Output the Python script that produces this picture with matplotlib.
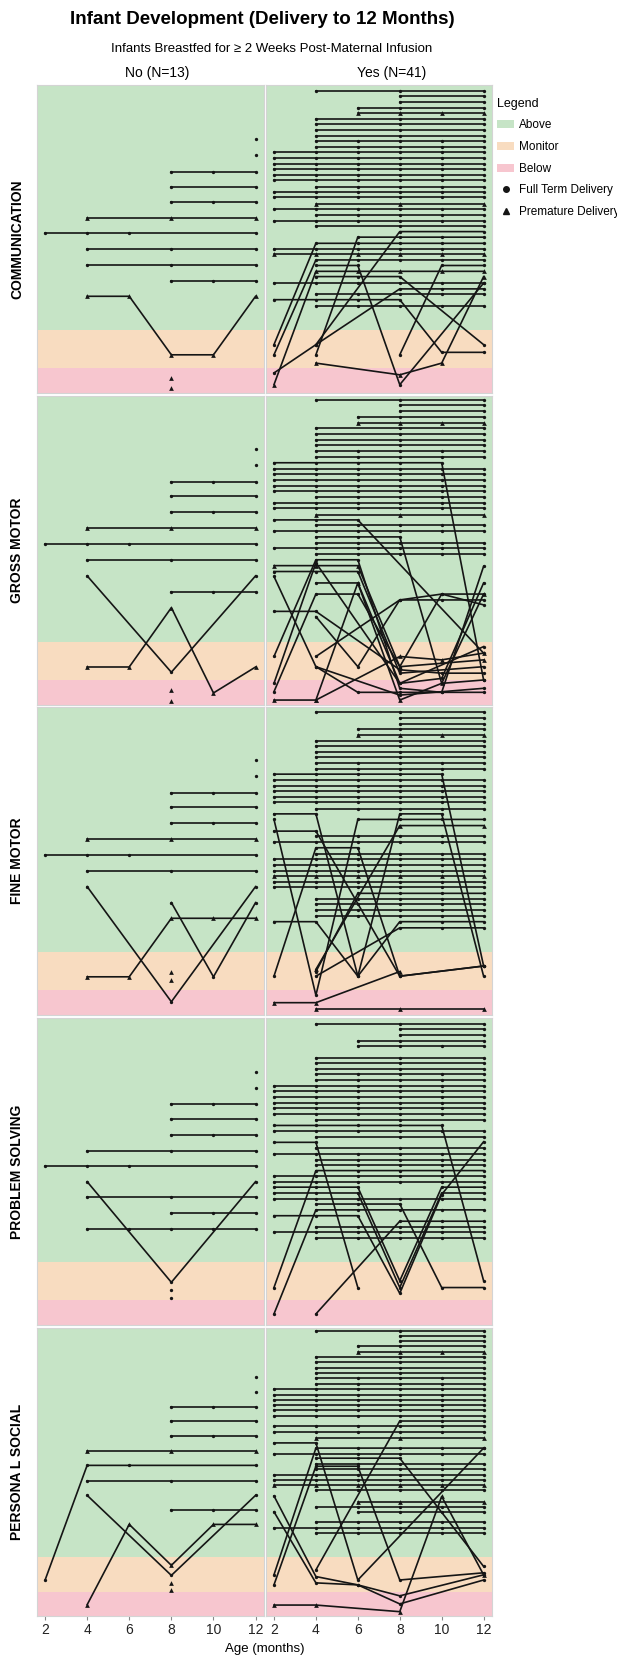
import matplotlib
matplotlib.use("Agg")
import matplotlib.pyplot as plt
from matplotlib.patches import Patch
from matplotlib.lines import Line2D

plt.rcParams['font.family'] = ['Liberation Sans', 'DejaVu Sans']

_ = None
AGES = [2, 4, 6, 8, 10, 12]
DOMAINS = ["COMMUNICATION", "GROSS MOTOR", "FINE MOTOR", "PROBLEM SOLVING", "PERSONA L SOCIAL"]
GROUPS = ["No (N=13)", "Yes (N=41)"]

# y = position in the panel, 0 = top, 100 = bottom (values at 2,4,6,8,10,12 months)
# F = full term delivery, P = premature delivery
COMM_NO = [
    ('F', [_, _, _, _, _, 17.6]), ('F', [_, _, _, _, _, 22.7]),
    ('F', [_, _, _, 28.1, 28.1, 28.1]), ('F', [_, _, _, 33.0, _, 33.0]),
    ('F', [_, _, _, 38.1, 38.1, 38.1]), ('P', [_, 43.2, _, 43.2, _, 43.2]),
    ('F', [48.1, 48.1, 48.1, _, _, 48.1]), ('F', [_, 53.2, _, 53.2, _, 53.2]),
    ('F', [_, 58.4, _, 58.4, _, 58.4]), ('F', [_, _, _, 63.5, 63.5, 63.5]),
    ('P', [_, 68.6, 68.6, 87.6, 87.6, 68.6]), ('P', [_, _, _, 95.1, _, _]),
    ('P', [_, _, _, 98.4, _, _]),
]
COMM_YES = [
    ('F', [_, 1.8, _, 1.8, _, 1.8]), ('F', [_, _, _, 3.6, _, 3.6]),
    ('F', [_, _, _, 5.4, _, 5.4]), ('F', [_, _, 7.4, 7.4, _, 7.4]),
    ('P', [_, _, 9.2, 9.2, 9.2, 9.2]), ('F', [_, 11.0, _, 11.0, _, 11.0]),
    ('F', [_, 12.8, _, 12.8, _, 12.8]), ('F', [_, 14.6, _, 14.6, _, 14.6]),
    ('F', [_, 16.4, _, 16.4, _, 16.4]), ('F', [_, 18.2, 18.2, 18.2, 18.2, 18.2]),
    ('F', [_, 20.0, 20.0, 20.0, 20.0, 20.0]),
    ('F', [21.8, 21.8, 21.8, 21.8, 21.8, 21.8]), ('F', [23.8, 23.8, 23.8, 23.8, 23.8, 23.8]),
    ('F', [25.6, 25.6, 25.6, 25.6, 25.6, 25.6]), ('F', [27.4, 27.4, 27.4, 27.4, 27.4, 27.4]),
    ('F', [29.2, 29.2, 29.2, 29.2, 29.2, 29.2]), ('F', [31.0, 31.0, 31.0, 31.0, 31.0, 31.0]),
    ('F', [_, 33.0, 33.0, 33.0, 33.0, 33.0]), ('F', [34.8, 34.8, 34.8, 34.8, 34.8, 34.8]),
    ('F', [36.5, 36.5, 36.5, 36.5, 36.5, 36.5]), ('P', [_, 38.6, _, 38.6, _, 38.6]),
    ('F', [40.3, 40.3, 40.3, 40.3, 40.3, 40.3]), ('F', [_, 42.2, 42.2, 42.2, 42.2, 42.2]),
    ('F', [44.0, 44.0, 44.0, 44.0, 44.0, 44.0]), ('F', [_, 45.7, _, 45.7, _, 45.7]),
    ('F', [93.5, 84.3, _, 47.6, _, 47.6]), ('F', [_, 87.6, 49.4, 49.4, 49.4, 49.4]),
    ('F', [84.3, 51.4, 51.4, 51.4, 51.4, 51.4]), ('F', [53.2, 53.2, 53.2, 53.2, 53.2, 53.2]),
    ('P', [54.9, 54.9, 54.9, 54.9, 54.9, 54.9]), ('F', [87.6, 56.8, 56.8, 56.8, 56.8, 56.8]),
    ('F', [_, 58.6, 58.6, 97.3, _, 64.3]), ('P', [97.3, 60.5, 60.5, 60.5, 60.5, 60.5]),
    ('F', [_, 62.2, 62.2, 62.2, _, 84.3]), ('F', [64.3, 64.3, 64.3, 64.3, 64.3, 64.3]),
    ('F', [_, 84.3, _, 66.2, 66.2, 66.2]), ('F', [_, 67.9, 67.9, 67.9, 67.9, 67.9]),
    ('F', [69.7, 69.7, 69.7, 69.7, 86.8, 86.8]), ('F', [_, 71.6, 71.6, 71.6, 71.6, 71.6]),
    ('P', [_, 90.3, _, 94.1, 90.3, 62.2]), ('F', [_, _, _, 87.6, 58.6, 58.6]),
]
GROSS_NO = [
    ('F', [_, _, _, _, _, 17.2]), ('F', [_, _, _, _, _, 22.3]),
    ('F', [_, _, _, 27.7, 27.7, 27.7]), ('F', [_, _, _, 32.5, _, 32.5]),
    ('F', [_, _, _, 37.7, 37.7, 37.7]), ('P', [_, 42.8, _, 42.8, _, 42.8]),
    ('F', [47.9, 47.9, 47.9, _, _, 47.9]), ('F', [_, 53.0, _, 53.0, _, 53.0]),
    ('F', [_, 58.2, _, 89.4, _, 58.2]), ('F', [_, _, _, 63.4, 63.4, 63.4]),
    ('P', [_, 87.7, 87.7, 68.5, 96.1, 87.7]), ('P', [_, _, _, 95.2, _, _]),
    ('P', [_, _, _, 98.7, _, _]),
]
GROSS_YES = [
    ('F', [_, 1.3, _, 1.3, _, 1.3]), ('F', [_, _, _, 3.0, _, 3.0]),
    ('F', [_, _, _, 4.9, _, 4.9]), ('F', [_, _, 6.7, 6.7, _, 6.7]),
    ('P', [_, _, 8.6, 8.6, 8.6, 8.6]), ('F', [_, 10.5, _, 10.5, _, 10.5]),
    ('F', [_, 12.3, _, 12.3, _, 12.3]), ('F', [_, 14.2, _, 14.2, _, 14.2]),
    ('F', [_, 16.0, _, 16.0, _, 16.0]), ('F', [_, 17.9, 17.9, 17.9, 17.9, 17.9]),
    ('F', [_, 19.8, 19.8, 19.8, 19.8, 19.8]), ('F', [21.6, 21.6, 21.6, 21.6, 21.6, 91.9]),
    ('F', [23.5, 23.5, 23.5, 23.5, 23.5, 23.5]), ('F', [25.3, 25.3, 25.3, 25.3, 25.3, 25.3]),
    ('F', [27.2, 27.2, 27.2, 27.2, 27.2, 27.2]), ('F', [29.0, 29.0, 29.0, 29.0, 29.0, 29.0]),
    ('F', [30.9, 30.9, 30.9, 30.9, 30.9, 30.9]), ('F', [_, 32.8, 32.8, 32.8, 32.8, 32.8]),
    ('F', [34.6, 34.6, 34.6, 34.6, 34.6, 34.6]), ('F', [36.4, 36.4, 36.4, 36.4, 36.4, 36.4]),
    ('P', [_, 38.5, _, 38.5, _, 38.5]), ('F', [40.1, 40.1, 40.1, _, _, 83.2]),
    ('F', [_, 41.9, 41.9, 41.9, 41.9, 41.9]), ('F', [43.7, 43.7, 43.7, 43.7, 43.7, 43.7]),
    ('F', [_, 45.6, 45.6, 45.6, 93.0, 91.9]), ('F', [_, 47.5, 47.5, 47.5, 47.5, 47.5]),
    ('F', [49.3, 49.3, 49.3, 49.3, 49.3, 49.3]), ('F', [_, 51.1, 51.1, 51.1, 51.1, 51.1]),
    ('P', [54.9, 54.9, 54.9, 87.6, _, 85.4]), ('F', [56.8, 56.8, 56.8, 89.7, _, 87.6]),
    ('F', [84.3, 53.0, 53.0, 94.6, 95.9, 55.1]), ('F', [93.0, 54.0, _, 93.0, 91.4, 60.5]),
    ('P', [98.4, 98.4, 60.5, 98.4, 93.0, 64.1]), ('F', [95.7, 64.1, 64.1, 87.6, 64.1, 64.1]),
    ('F', [58.4, 87.6, _, 96.8, _, 94.6]), ('F', [69.7, 69.7, _, 88.6, 89.7, 89.7]),
    ('F', [_, 84.3, _, 66.0, 66.0, 66.0]), ('F', [_, 60.5, 60.5, 93.0, _, 81.1]),
    ('F', [_, 71.4, 87.6, 66.0, 64.1, 67.6]), ('F', [_, 87.6, 95.9, 95.9, 95.9, 95.9]),
    ('P', [_, 98.4, _, 84.3, 85.4, 83.2]),
]
FINE_NO = [
    ('F', [_, _, _, _, _, 17.3]), ('F', [_, _, _, _, _, 22.5]),
    ('F', [_, _, _, 27.9, 27.9, 27.9]), ('F', [_, _, _, 32.6, _, 32.6]),
    ('F', [_, _, _, 37.8, 37.8, 37.8]), ('P', [_, 43.0, _, 43.0, _, 43.0]),
    ('F', [48.0, 48.0, 48.0, _, _, 48.0]), ('F', [_, 53.2, _, 53.2, _, 53.2]),
    ('F', [_, 58.3, _, 95.7, _, 58.3]), ('F', [_, _, _, 63.5, 87.6, 63.5]),
    ('P', [_, 87.6, 87.6, 68.6, 68.6, 68.6]), ('P', [_, _, _, 86.1, _, _]),
    ('P', [_, _, _, 88.6, _, _]),
]
FINE_YES = [
    ('F', [_, 1.7, _, 1.7, _, 1.7]), ('F', [_, _, _, 3.6, _, 3.6]),
    ('F', [_, _, _, 5.4, _, 5.4]), ('F', [_, _, 7.1, 7.1, _, 7.1]),
    ('P', [_, _, 9.2, 9.2, 9.2, 9.2]), ('F', [_, 10.9, _, 10.9, _, 10.9]),
    ('F', [_, 12.8, _, 12.8, _, 12.8]), ('F', [_, 14.6, _, 14.6, _, 14.6]),
    ('F', [_, 16.3, _, 16.3, _, 16.3]), ('F', [_, 18.2, 18.2, 18.2, 18.2, 18.2]),
    ('F', [_, 20.0, 20.0, 20.0, 20.0, 20.0]), ('F', [21.8, 21.8, 21.8, 21.8, 21.8, 84.1]),
    ('F', [23.7, 23.7, 23.7, 23.7, 23.7, 23.7]), ('F', [25.5, 25.5, 25.5, 25.5, 25.5, 25.5]),
    ('F', [27.4, 27.4, 27.4, 27.4, 27.4, 27.4]), ('F', [29.2, 29.2, 29.2, 29.2, 29.2, 29.2]),
    ('F', [31.0, 31.0, 31.0, 31.0, 31.0, 31.0]), ('F', [_, 33.0, 33.0, 33.0, 33.0, 33.0]),
    ('F', [34.7, 34.7, 87.4, 34.7, 34.7, 87.4]), ('F', [36.5, 93.6, 36.5, 36.5, 36.5, 36.5]),
    ('P', [_, 85.2, _, 38.5, _, 38.5]), ('F', [40.3, 40.3, _, 87.4, _, 84.1]),
    ('F', [_, 42.0, 42.0, 42.0, 42.0, 42.0]), ('F', [43.9, 43.9, 43.9, 43.9, 43.9, 43.9]),
    ('F', [87.4, 45.7, 45.7, 87.4, _, 84.1]), ('F', [_, 47.6, 47.6, 47.6, 47.6, 47.6]),
    ('F', [49.5, 49.5, 49.5, 49.5, 49.5, 49.5]), ('F', [51.4, 51.4, 51.4, 51.4, 51.4, 51.4]),
    ('F', [53.1, 53.1, 53.1, 53.1, 53.1, 53.1]), ('P', [55.0, 55.0, 55.0, 55.0, 55.0, 55.0]),
    ('F', [56.8, 56.8, 56.8, 56.8, 56.8, 56.8]), ('F', [58.6, 58.6, 58.6, 58.6, 58.6, 58.6]),
    ('F', [_, 85.9, 60.5, 60.5, 60.5, 60.5]), ('F', [_, 62.3, 62.3, 62.3, 62.3, 62.3]),
    ('F', [_, 64.1, 64.1, 64.1, 64.1, 64.1]), ('F', [_, 66.0, 66.0, 66.0, 66.0, 66.0]),
    ('F', [_, 67.9, 67.9, 67.9, 67.9, 67.9]), ('F', [69.7, 69.7, 87.4, 69.7, 69.7, 69.7]),
    ('F', [_, 87.4, _, 71.7, 71.7, 71.7]), ('P', [96.0, 96.0, _, 85.9, _, _]),
    ('P', [_, 98.2, _, 98.2, _, 98.2]),
]
PS_NO = [
    ('F', [_, _, _, _, _, 17.7]), ('F', [_, _, _, _, _, 22.7]),
    ('F', [_, _, _, 28.1, 28.1, 28.1]), ('F', [_, _, _, 32.9, _, 32.9]),
    ('F', [_, _, _, 38.1, 38.1, 38.1]), ('F', [_, 43.2, _, 43.2, _, 43.2]),
    ('F', [48.1, 48.1, 48.1, _, _, 48.1]), ('F', [_, 53.3, _, 86.1, _, 53.3]),
    ('F', [_, 58.3, _, 58.3, _, 58.3]), ('F', [_, _, _, 63.6, 63.6, 63.6]),
    ('F', [_, 68.8, 68.8, 68.8, 68.8, 68.8]), ('F', [_, _, _, 88.6, _, _]),
    ('F', [_, _, _, 91.2, _, _]),
]
PS_YES = [
    ('F', [_, 1.8, _, 1.8, _, 1.8]), ('F', [_, _, _, 3.7, _, 3.7]),
    ('F', [_, _, _, 5.5, _, 5.5]), ('F', [_, _, 7.5, 7.5, _, 7.5]),
    ('F', [_, _, 9.2, 9.2, 9.2, 9.2]), ('F', [_, 12.9, _, 12.9, _, 12.9]),
    ('F', [_, 14.7, _, 14.7, _, 14.7]), ('F', [_, 16.5, _, 16.5, _, 16.5]),
    ('F', [_, 18.4, 18.4, 18.4, 18.4, 18.4]), ('F', [_, 20.2, 20.2, 20.2, 20.2, 20.2]),
    ('F', [22.1, 22.1, 22.1, 22.1, 22.1, 22.1]), ('F', [23.9, 23.9, 23.9, 23.9, 23.9, 23.9]),
    ('F', [25.7, 25.7, 25.7, 25.7, 25.7, 25.7]), ('F', [27.6, 27.6, 27.6, 27.6, 27.6, 27.6]),
    ('F', [29.4, 29.4, 29.4, 29.4, 29.4, 29.4]), ('F', [31.2, 31.2, 31.2, 31.2, 31.2, 31.2]),
    ('F', [_, 33.2, _, 33.2, _, 33.2]), ('F', [35.0, 35.0, 35.0, 35.0, 35.0, 85.6]),
    ('F', [36.9, 36.9, 36.9, 36.9, 36.9, 36.9]), ('F', [_, 38.7, _, 38.7, _, 38.7]),
    ('F', [40.5, 40.5, 87.8, _, _, _]), ('F', [_, 42.4, _, 42.4, _, 42.4]),
    ('F', [44.2, 44.2, 44.2, 44.2, 44.2, 44.2]), ('F', [_, 46.1, 46.1, 46.1, 46.1, 46.1]),
    ('F', [_, 47.9, 47.9, 47.9, 47.9, 47.9]), ('F', [87.8, 49.7, 49.7, 49.7, 49.7, 49.7]),
    ('F', [51.5, 51.5, 51.5, 51.5, 51.5, 51.5]), ('F', [53.4, 53.4, 53.4, 53.4, 53.4, 53.4]),
    ('F', [55.1, 55.1, 55.1, 85.6, 55.1, 55.1]), ('F', [57.0, 57.0, 57.0, 87.8, 57.0, 57.0]),
    ('F', [58.8, 58.8, 58.8, 58.8, 58.8, 58.8]), ('F', [_, 60.6, 60.6, 60.6, 87.8, 87.8]),
    ('F', [96.4, 62.5, 62.5, 62.5, 62.5, 62.5]), ('F', [64.4, 64.4, 64.4, 89.7, 57.5, 40.3]),
    ('F', [_, 96.4, _, 66.2, 66.2, 66.2]), ('F', [_, 68.1, 68.1, 68.1, 68.1, 68.1]),
    ('F', [69.8, 69.8, 69.8, 69.8, 69.8, 69.8]), ('F', [_, 71.7, 71.7, 71.7, 71.7, 71.7]),
]
PSOC_NO = [
    ('F', [_, _, _, _, _, 16.9]), ('F', [_, _, _, _, _, 22.1]),
    ('F', [_, _, _, 27.5, 27.5, 27.5]), ('F', [_, _, _, 32.4, _, 32.4]),
    ('F', [_, _, _, 37.5, 37.5, 37.5]), ('P', [_, 42.6, _, 42.6, _, 42.6]),
    ('F', [87.6, 47.7, 47.7, _, _, 47.7]), ('F', [_, 53.0, _, 53.0, _, 53.0]),
    ('F', [_, 58.1, _, 85.9, _, 58.1]), ('F', [_, _, _, 63.1, 63.1, 63.1]),
    ('P', [_, 96.1, 68.2, 82.4, 68.2, 68.2]), ('P', [_, _, _, 88.5, _, _]),
    ('P', [_, _, _, 91.0, _, _]),
]
PSOC_YES = [
    ('F', [_, 0.9, _, 0.9, _, 0.9]), ('F', [_, _, _, 2.7, _, 2.7]),
    ('F', [_, _, _, 4.4, _, 4.4]), ('F', [_, _, 6.4, 6.4, _, 6.4]),
    ('P', [_, _, 8.3, 8.3, 8.3, 8.3]), ('F', [_, 10.1, _, 10.1, _, 10.1]),
    ('F', [_, 11.9, _, 11.9, _, 11.9]), ('F', [_, 13.8, _, 13.8, _, 13.8]),
    ('F', [_, 15.6, _, 15.6, _, 15.6]), ('F', [_, 17.5, 17.5, 17.5, 17.5, 17.5]),
    ('F', [_, 19.4, 19.4, 19.4, 19.4, 19.4]), ('F', [21.2, 21.2, 21.2, 21.2, 21.2, 21.2]),
    ('F', [23.1, 23.1, 23.1, 23.1, 23.1, 23.1]), ('F', [24.9, 24.9, 24.9, 24.9, 24.9, 24.9]),
    ('F', [26.8, 26.8, 26.8, 26.8, 26.8, 26.8]), ('F', [28.6, 28.6, 28.6, 28.6, 28.6, 28.6]),
    ('F', [30.5, 30.5, 30.5, 30.5, 30.5, 30.5]), ('F', [_, 84.0, _, 32.3, 32.3, 32.3]),
    ('F', [34.2, 34.2, 34.2, 34.2, 34.2, 34.2]), ('F', [36.2, 36.2, 36.2, 36.2, 36.2, 36.2]),
    ('P', [_, 38.1, _, 38.1, _, 38.1]), ('F', [39.9, 39.9, 87.5, _, _, 41.7]),
    ('F', [85.7, 41.7, 41.7, 41.7, 41.7, 41.7]), ('F', [43.6, 43.6, 43.6, 43.6, 43.6, 43.6]),
    ('F', [_, 45.2, 45.2, 45.2, _, 82.8]), ('F', [_, 47.2, 47.2, 47.2, 47.2, 47.2]),
    ('F', [_, 49.0, 49.0, 49.0, 49.0, 49.0]), ('F', [50.9, 50.9, 50.9, 50.9, 50.9, 50.9]),
    ('F', [52.7, 52.7, 52.7, 52.7, 52.7, 52.7]), ('P', [54.6, 54.6, 54.6, 54.6, 54.6, 54.6]),
    ('F', [_, 56.4, 56.4, 56.4, 56.4, 56.4]), ('F', [58.3, 86.3, 89.2, 95.8, _, 87.5]),
    ('P', [_, _, 60.3, 60.3, _, 60.3]), ('F', [_, 62.0, 62.0, 62.0, 62.0, 62.0]),
    ('F', [63.8, 88.5, 89.2, 93.0, _, 85.7]), ('F', [_, _, 63.8, 63.8, 63.8, 63.8]),
    ('F', [_, 67.5, 67.5, 67.5, 67.5, 67.5]), ('F', [69.4, 69.4, 69.4, 69.4, 69.4, 69.4]),
    ('F', [_, 71.3, 71.3, 71.3, 71.3, 71.3]), ('P', [96.2, 96.2, _, 98.5, 58.5, 85.7]),
    ('F', [89.2, 48.0, 48.0, 87.5, _, 85.0]),
]
PANELS = [(COMM_NO, COMM_YES), (GROSS_NO, GROSS_YES), (FINE_NO, FINE_YES),
          (PS_NO, PS_YES), (PSOC_NO, PSOC_YES)]

# band limits (fraction of panel from top)
BANDS = [("Above", 0, 79.5, "#c6e4c6"), ("Monitor", 79.5, 91.8, "#f8dcc0"),
         ("Below", 91.8, 100, "#f7c6cf")]

W, H = 617, 1657
fig = plt.figure(figsize=(W / 100, H / 100), dpi=100)

row_box = [(85, 308), (396, 309), (707, 308), (1018, 307), (1328, 288)]
col_box = [(37, 264), (266, 492)]


def draw_panel(ax, infants):
    for name, lo, hi, c in BANDS:
        ax.axhspan(lo, hi, color=c, lw=0, zorder=0)
    for flag, vals in infants:
        xs = [a for a, v in zip(AGES, vals) if v is not None]
        ys = [v for v in vals if v is not None]
        if flag == 'P':
            ax.plot(xs, ys, color='#151515', lw=1.2, marker='^', ms=3.4, mew=0, zorder=3)
        else:
            ax.plot(xs, ys, color='#151515', lw=1.2, marker='o', ms=2.4, mew=0, zorder=3)
    ax.set_xlim(1.62, 12.4)
    ax.set_ylim(100, 0)
    ax.set_yticks([])
    for s in ax.spines.values():
        s.set_color('#d4d4d4')
        s.set_linewidth(0.8)


for r, (top, h) in enumerate(row_box):
    for c, (x0, x1) in enumerate(col_box):
        ax = fig.add_axes([x0 / W, 1 - (top + h) / H, (x1 - x0) / W, h / H])
        draw_panel(ax, PANELS[r][c])
        ax.set_xticks(AGES)
        if r == len(row_box) - 1:
            ax.tick_params(axis='x', length=3, color='#888888', labelsize=10,
                           labelcolor='#222222', pad=2)
        else:
            ax.tick_params(axis='x', length=0, labelbottom=False)
    fig.text(17 / W, 1 - (top + h / 2) / H, DOMAINS[r], rotation=90, ha='center',
             va='center', fontsize=10, fontweight='bold')

fig.text(262 / W, 1 - 19 / H, "Infant Development (Delivery to 12 Months)", ha='center',
         va='center', fontsize=13.5, fontweight='bold')
fig.text(272 / W, 1 - 49 / H, "Infants Breastfed for \u2265 2 Weeks Post-Maternal Infusion",
         ha='center', va='center', fontsize=9.5)
fig.text(157 / W, 1 - 73 / H, GROUPS[0], ha='center', va='center', fontsize=10)
fig.text(392 / W, 1 - 73 / H, GROUPS[1], ha='center', va='center', fontsize=10)
fig.text(265 / W, 1 - 1649 / H, "Age (months)", ha='center', va='center', fontsize=9.5)

handles = [Patch(facecolor=c, edgecolor='none', label=n) for n, lo, hi, c in BANDS]
handles += [Line2D([], [], ls='none', marker='o', ms=4, color='#151515', label='Full Term Delivery'),
            Line2D([], [], ls='none', marker='^', ms=5, color='#151515', label='Premature Delivery')]
fig.legend(handles=handles, loc='upper left', bbox_to_anchor=(492 / W, 1 - 93 / H),
           frameon=False, title='Legend', fontsize=8.5, title_fontsize=9,
           alignment='left', handlelength=1.5, handleheight=0.7, labelspacing=0.82,
           handletextpad=0.4, borderaxespad=0)

fig.savefig("out.png", dpi=100)
